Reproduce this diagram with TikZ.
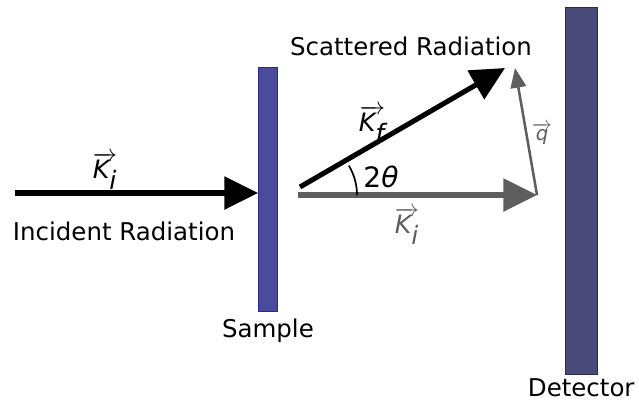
\documentclass[tikz,border=0pt]{standalone}
\usepackage{fontspec}
\setmainfont{DejaVu Sans}
\usetikzlibrary{arrows.meta,positioning}
\definecolor{samplefill}{HTML}{4B4B9E}
\definecolor{sampleedge}{HTML}{2A2A8A}
\definecolor{detectorfill}{HTML}{4A4A78}
\definecolor{detectoredge}{HTML}{2A2A50}
\definecolor{beamgrey}{HTML}{5E5E5E}

\begin{document}
\begin{tikzpicture}[x=0.025cm, y=-0.025cm,
  beam/.style={line width=3.6pt, -{Triangle[length=24pt, width=23pt]}},
  qvec/.style={beamgrey, line width=1.8pt, -{Triangle[length=14pt, width=11pt]}},
  caption/.style={font=\fontsize{17.4}{20}\selectfont, inner sep=0pt},
  veclabel/.style={font=\fontsize{18}{20}\selectfont, inner sep=0pt}]
  \useasboundingbox (0,0) rectangle (639,403);

  % sample and detector plates
  \node[draw=sampleedge, fill=samplefill, line width=0.6pt, inner sep=0pt,
    minimum width=13.5pt, minimum height=173.5pt,
    anchor=north west] (sample) at (258,67) {};
  \node[draw=detectoredge, fill=detectorfill, line width=0.6pt, inner sep=0pt,
    minimum width=22.5pt, minimum height=261pt,
    anchor=north west] (detector) at (565,7) {};

  \node[caption, below=4.5pt of sample] (samplelabel) {Sample};
  \node[caption, below=2.5pt of detector] (detectorlabel) {Detector};

  % incident beam
  \coordinate (source) at (15,193);
  \draw[beam] (source) -- (sample.west |- source);
  \node[veclabel] (kin) at (105,171) {$\overrightarrow{\textit{K}_{\textit{i}}}$};
  \node[caption] (incident) at (124,231) {Incident Radiation};

  % scattering triangle
  \coordinate (origin) at (300,195);
  \coordinate (ktip) at (537,195);
  \coordinate (ftip) at (505,68);
  \draw[beam, beamgrey] (298,195) -- (ktip);
  \draw[beam] (300,187) -- (ftip);
  \draw[qvec] (ktip) -- (515,68);
  \draw[line width=1.2pt] ([shift={(0:57)}]origin) arc[start angle=0, end angle=-31, radius=57];

  \node[veclabel, beamgrey] (kout) at (407,226) {$\overrightarrow{\textit{K}_{\textit{i}}}$};
  \node[veclabel] (kf) at (372,124) {$\overrightarrow{\textit{K}_{\textit{f}}}$};
  \node[font=\fontsize{14}{16}\selectfont, beamgrey, inner sep=0pt] (qlabel) at (542,134)
    {$\overrightarrow{\textit{q}}$};
  \node[font=\fontsize{20}{22}\selectfont, inner sep=0pt] (angle) at (381,177) {2\textit{θ}};
  \node[caption] (scattered) at (411,46) {Scattered Radiation};
\end{tikzpicture}
\end{document}
